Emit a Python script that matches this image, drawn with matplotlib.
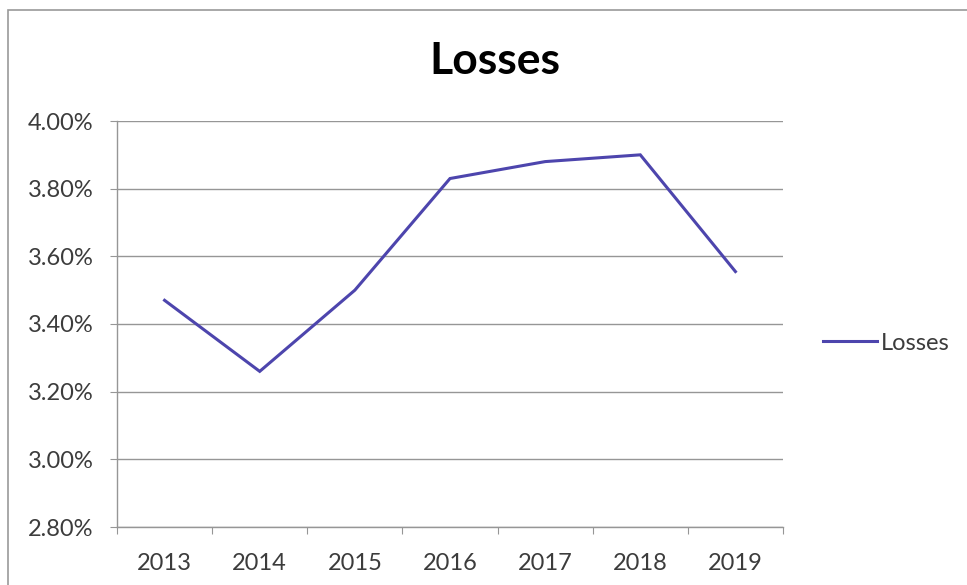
import matplotlib
matplotlib.use("Agg")
import matplotlib.pyplot as plt
from matplotlib.patches import Rectangle
from matplotlib.ticker import FuncFormatter, FixedLocator

years = ["2013", "2014", "2015", "2016", "2017", "2018", "2019"]
losses = [3.47, 3.26, 3.50, 3.83, 3.88, 3.90, 3.555]
y_ticks = [2.80, 3.00, 3.20, 3.40, 3.60, 3.80, 4.00]

plt.rcParams['font.family'] = ['Lato', 'DejaVu Sans']

fig = plt.figure(figsize=(9.67, 5.85), dpi=100)
fig.patch.set_facecolor('white')

# outer chart frame, runs off the right and bottom edges
frame = Rectangle((8 / 967, -0.1), 1.2, 1 - 10 / 585 + 0.1, transform=fig.transFigure,
                  fill=False, edgecolor='#9a9a9a', linewidth=1.2)
fig.add_artist(frame)

ax = fig.add_axes([117 / 967, 1 - 527 / 585, (783 - 117) / 967, (527 - 121) / 585])

x = [i + 0.5 for i in range(len(years))]
line_color = '#4d45ad'
ax.plot(x, losses, color=line_color, linewidth=2.2, label='Losses', solid_joinstyle='miter')

ax.set_xlim(0, len(years))
ax.set_ylim(2.80, 4.00)
ax.yaxis.set_major_locator(FixedLocator(y_ticks))
ax.yaxis.set_major_formatter(FuncFormatter(lambda v, p: f"{v:.2f}%"))
ax.grid(axis='y', color='#969696', linewidth=1.0)
ax.set_axisbelow(True)

# category ticks between labels, labels centred on minor ticks
ax.xaxis.set_major_locator(FixedLocator(range(len(years) + 1)))
ax.xaxis.set_minor_locator(FixedLocator(x))
ax.set_xticklabels([], minor=False)
ax.set_xticklabels(years, minor=True)
ax.tick_params(axis='x', which='major', length=5, color='#969696', direction='out')
ax.tick_params(axis='x', which='minor', length=0, pad=18.5, labelsize=17, labelcolor='#3c3c3c')
ax.tick_params(axis='y', length=5, color='#969696', pad=12, labelsize=17, labelcolor='#3c3c3c')

for side in ['top', 'right']:
    ax.spines[side].set_visible(False)
for side in ['left', 'bottom']:
    ax.spines[side].set_color('#969696')
    ax.spines[side].set_linewidth(1.0)

fig.text(495 / 967, 1 - 61 / 585, 'Losses', ha='center', va='center',
         fontsize=32, fontweight='bold', color='black')

ax.legend(loc='center left', bbox_to_anchor=(1.06, 0.5 - (343 - 324) / 406), frameon=False,
          fontsize=17, handlelength=2.3, handletextpad=0.15, labelcolor='#3c3c3c',
          borderaxespad=0, borderpad=0)

fig.savefig('out.png', dpi=100, facecolor='white')
